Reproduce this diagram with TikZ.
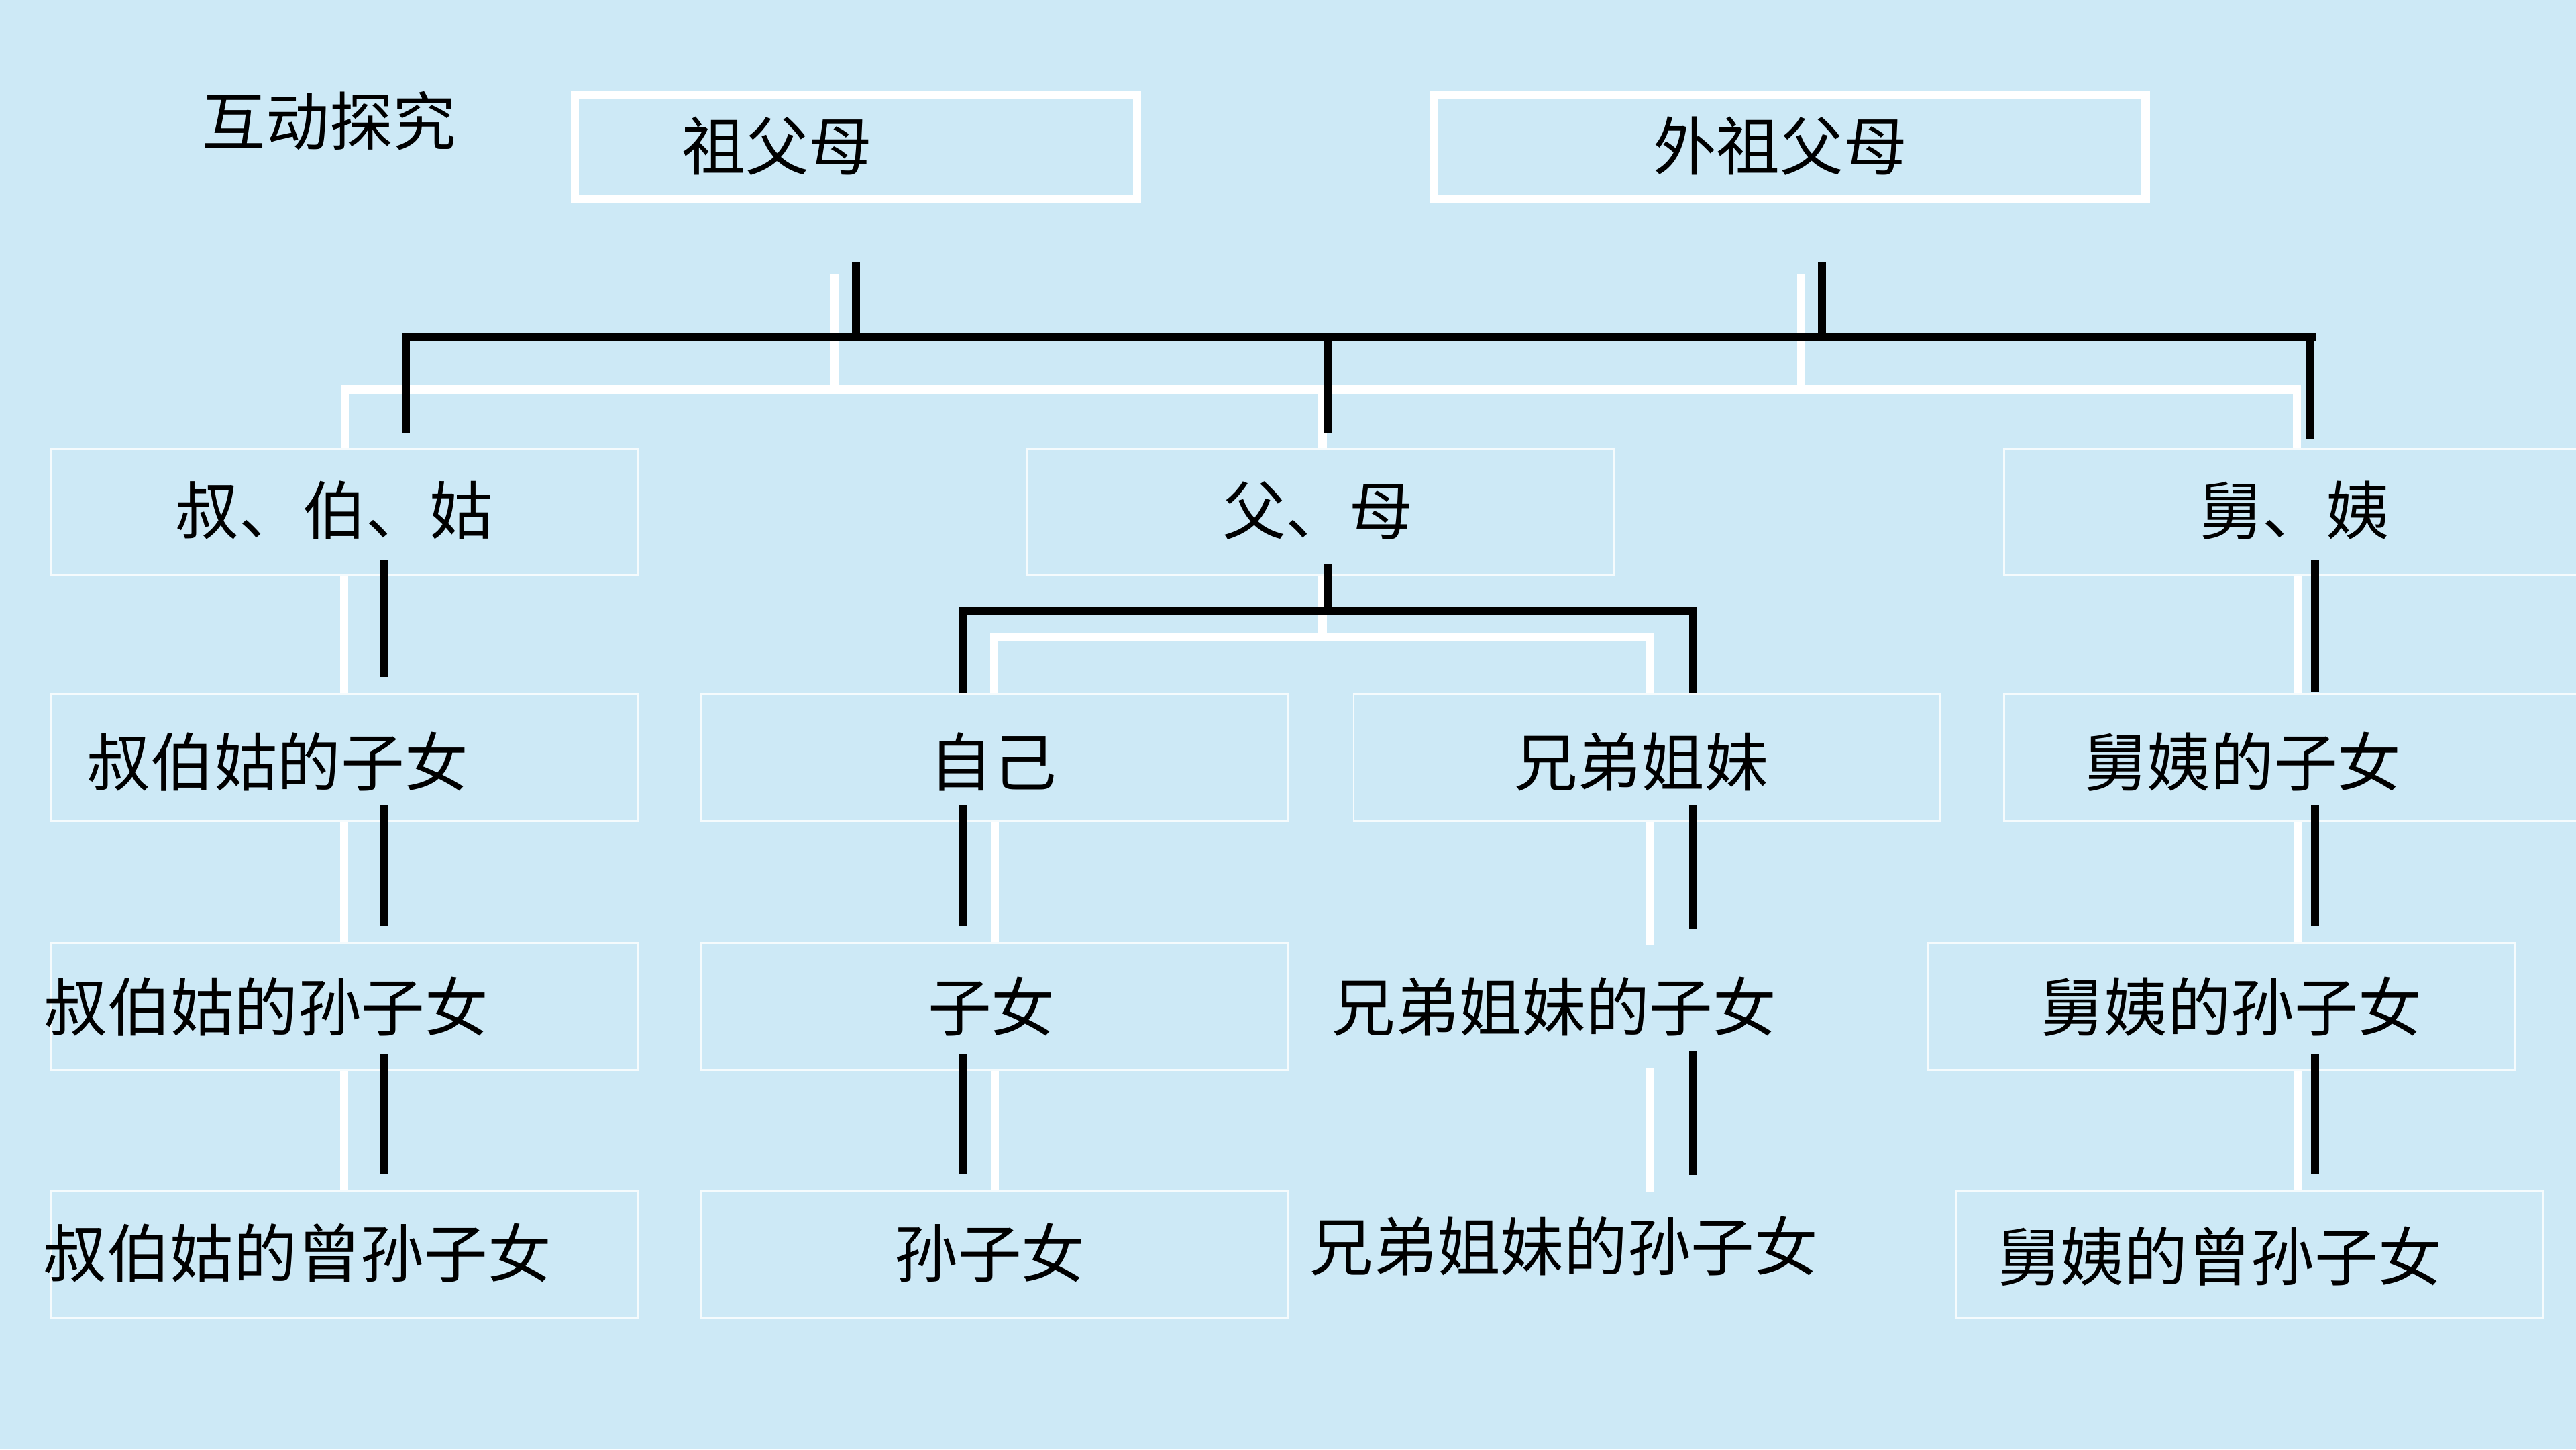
\documentclass[tikz,border=0pt]{standalone}
\usepackage{fontspec}
\newfontfamily\cjk{Noto Sans CJK SC}
\usetikzlibrary{calc}
\definecolor{paper}{HTML}{CDE9F6}
\tikzset{
  every node/.style={font=\cjk\fontsize{11pt}{13pt}\selectfont,text=black},
  frame/.style={draw=white,line width=0.5mm,minimum height=6.3mm,inner sep=0pt},
  cell/.style={draw=white!80!paper,line width=0.12mm,minimum width=35.7mm,minimum height=7.7mm,inner sep=0pt},
  word/.style={inner sep=0pt,text height=0.76em,text depth=0pt},
  kin/.style={draw=black,line width=0.5mm},
  tie/.style={kin,shorten <=-1mm,shorten >=1mm},
  shade/.style={draw=white,line width=0.5mm},
}

\begin{document}
\begin{tikzpicture}[x=0.1mm,y=-0.1mm]
  \clip (0,0) rectangle (1568,882);
  \fill[paper] (0,0) rectangle (1568,882);

  % boxes
  \node[frame,minimum width=34.2mm] (zfm) at (521,89.5) {};
  \node[frame,minimum width=43.3mm] (wzfm) at (1089.5,89.5) {};
  \node[cell] (kbg) at (209.5,311.5) {};
  \node[cell] (fm) at (804,311.5) {};
  \node[cell] (jy) at (1398.5,311.5) {};
  \node[cell] (kbgzn) at (209.5,461) {};
  \node[cell] (zj) at (605.5,461) {};
  \node[cell] (xdjm) at (1002.5,461) {};
  \node[cell] (jyzn) at (1398.5,461) {};
  \node[cell] (kbgszn) at (209.5,612.5) {};
  \node[cell] (zn) at (605.5,612.5) {};
  \node[cell] (jyszn) at (1352,612.5) {};
  \node[cell] (kbgzszn) at (209.5,763.5) {};
  \node[cell] (szn) at (605.5,763.5) {};
  \node[cell] (jyzszn) at (1369.5,763.5) {};

  % bars and columns
  \coordinate (bar) at (247,205);  \coordinate (barend) at (1410,205);
  \coordinate (sbar) at (210,237); \coordinate (sbarend) at (1398,237);
  \coordinate (zk) at (521,205);   \coordinate (zs) at (508,237);
  \coordinate (wk) at (1109,205);  \coordinate (ws) at (1096.5,237);
  \coordinate (fk) at (808,205);   \coordinate (fs) at (805,237);
  \coordinate (jk) at (1406,205);
  \coordinate (mk) at (808,372);   \coordinate (mkl) at (586.5,372); \coordinate (mkr) at (1030.5,372);
  \coordinate (ms) at (805,388);   \coordinate (msl) at (605,388);   \coordinate (msr) at (1004,388);
  \coordinate (colk) at (233.5,0); \coordinate (colz) at (586.5,0);
  \coordinate (colx) at (1030.5,0); \coordinate (colj) at (1409,0); \coordinate (colj2) at (1399,0);
  \coordinate (xrow3) at (1004,575); \coordinate (xrow3b) at (1004,650); \coordinate (xrow4) at (1004,725);

  % white shadow lines
  \draw[shade,shorten <=4.3mm] (zfm.south -| zs) -- (zs);
  \draw[shade,shorten <=4.3mm] (wzfm.south -| ws) -- (ws);
  \draw[shade] (kbg.north -| sbar) -- (sbar) -- (sbarend) -- (jy.north -| sbarend);
  \draw[shade] (fs) -- (fm.north -| fs);
  \draw[shade] (fm.south -| ms) -- (ms);
  \draw[shade] (zj.north -| msl) -- (msl) -- (msr) -- (xdjm.north -| msr);
  \draw[shade] (kbg) -- (kbgzn); \draw[shade] (kbgzn) -- (kbgszn); \draw[shade] (kbgszn) -- (kbgzszn);
  \draw[shade] (zj) -- (zn); \draw[shade] (zn) -- (szn);
  \draw[shade] (xdjm.south -| xrow3) -- (xrow3); \draw[shade] (xrow3b) -- (xrow4);
  \draw[shade] (jy.south -| colj2) -- (jyzn.north -| colj2);
  \draw[shade] (jyzn.south -| colj2) -- (jyszn.north -| colj2);
  \draw[shade] (jyszn.south -| colj2) -- (jyzszn.north -| colj2);

  % black lines
  \draw[kin,shorten <=3.6mm] (zfm.south -| zk) -- (zk);
  \draw[kin,shorten <=3.6mm] (wzfm.south -| wk) -- (wk);
  \draw[kin,shorten <=0.9mm] (kbg.north -| bar) -- (bar) -- (barend);
  \draw[kin,shorten >=0.9mm] (fk) -- (fm.north -| fk);
  \draw[kin,shorten >=0.5mm] (jk) -- (jy.north -| jk);
  \draw[kin,shorten <=-0.75mm] (fm.south -| mk) -- (mk);
  \draw[kin] (zj.north -| mkl) -- (mkl) -- (mkr) -- (xdjm.north -| mkr);
  \draw[tie] (kbg.south -| colk) -- (kbgzn.north -| colk);
  \draw[tie] (kbgzn.south -| colk) -- (kbgszn.north -| colk);
  \draw[tie] (kbgszn.south -| colk) -- (kbgzszn.north -| colk);
  \draw[tie] (zj.south -| colz) -- (zn.north -| colz);
  \draw[tie] (zn.south -| colz) -- (szn.north -| colz);
  \draw[tie] (xdjm.south -| colx) -- (xrow3 -| colx);
  \draw[tie] (xrow3b -| colx) -- (xrow4 -| colx);
  \draw[tie,shorten >=0.1mm] (jy.south -| colj) -- (jyzn.north -| colj);
  \draw[tie] (jyzn.south -| colj) -- (jyszn.north -| colj);
  \draw[tie] (jyszn.south -| colj) -- (jyzszn.north -| colj);

  % texts
  \node[word] (title) at (200.5,75) {互动探究};
  \node[word] (tzfm) at (473,90) {祖父母};
  \node[word] (twzfm) at (1083.5,90) {外祖父母};
  \node[word] (tkbg) at (203.5,312) {叔、伯、姑};
  \node[word] (tfm) at (802,312) {父、母};
  \node[word] (tjy) at (1396.5,312) {舅、姨};
  \node[word] (tkbgzn) at (169,465) {叔伯姑的子女};
  \node[word] (tzj) at (604.5,465) {自己};
  \node[word] (txdjm) at (999,465) {兄弟姐妹};
  \node[word] (tjyzn) at (1365,465) {舅姨的子女};
  \node[word] (tkbgszn) at (162,614) {叔伯姑的孙子女};
  \node[word] (tzn) at (603.5,614) {子女};
  \node[word] (txdjmzn) at (946,614) {兄弟姐妹的子女};
  \node[word] (tjyszn) at (1358,614) {舅姨的孙子女};
  \node[word] (tkbgzszn) at (181,764) {叔伯姑的曾孙子女};
  \node[word] (tszn) at (602.5,764) {孙子女};
  \node[word] (txdjmszn) at (952,760) {兄弟姐妹的孙子女};
  \node[word] (tjyzszn) at (1351,766) {舅姨的曾孙子女};
\end{tikzpicture}
\end{document}
